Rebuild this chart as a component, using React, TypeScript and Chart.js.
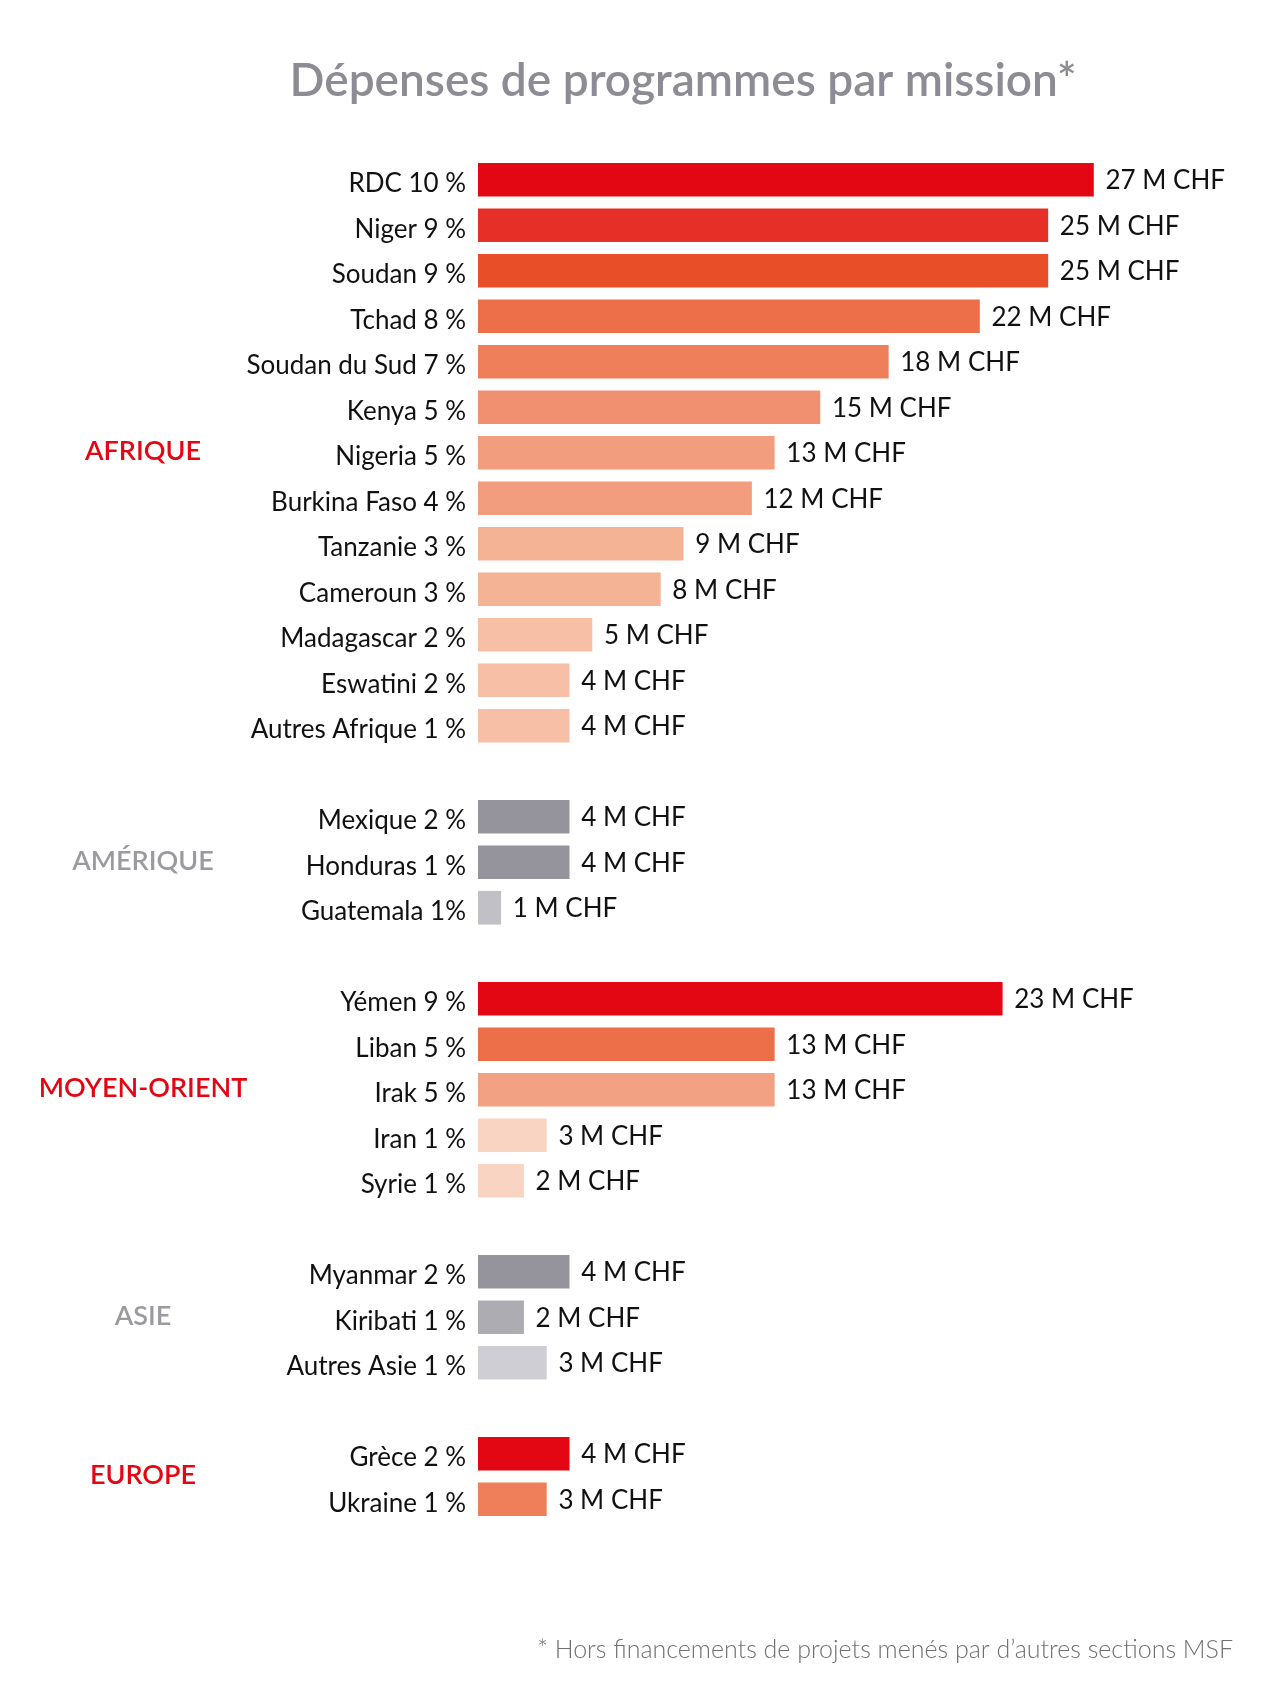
import React, { useEffect, useRef } from "react";
import { Chart, registerables } from "chart.js";

Chart.register(...registerables);

// Programme spending per mission, grouped by region (M CHF and share of total)
const africaMissions = ["RDC", "Niger", "Soudan", "Tchad", "Soudan du Sud", "Kenya", "Nigeria", "Burkina Faso", "Tanzanie", "Cameroun", "Madagascar", "Eswatini", "Autres Afrique"];
const africaShares = ["10\u202f%", "9\u202f%", "9\u202f%", "8\u202f%", "7\u202f%", "5\u202f%", "5\u202f%", "4\u202f%", "3\u202f%", "3\u202f%", "2\u202f%", "2\u202f%", "1\u202f%"];
const africaSpending = [27, 25, 25, 22, 18, 15, 13, 12, 9, 8, 5, 4, 4];

const americaMissions = ["Mexique", "Honduras", "Guatemala"];
const americaShares = ["2\u202f%", "1\u202f%", "1%"];
const americaSpending = [4, 4, 1];

const middleEastMissions = ["Yémen", "Liban", "Irak", "Iran", "Syrie"];
const middleEastShares = ["9\u202f%", "5\u202f%", "5\u202f%", "1\u202f%", "1\u202f%"];
const middleEastSpending = [23, 13, 13, 3, 2];

const asiaMissions = ["Myanmar", "Kiribati", "Autres Asie"];
const asiaShares = ["2\u202f%", "1\u202f%", "1\u202f%"];
const asiaSpending = [4, 2, 3];

const europeMissions = ["Grèce", "Ukraine"];
const europeShares = ["2\u202f%", "1\u202f%"];
const europeSpending = [4, 3];

// Bar palettes per region
const africaColors = ["#e30613", "#e63027", "#e84e27", "#ec6f4a", "#ef7f5a", "#f19070", "#f29e7e", "#f29e7e", "#f5b396", "#f5b396", "#f7bfa6", "#f7bfa6", "#f7bfa6"];
const americaColors = ["#95949d", "#95949d", "#c1c0c7"];
const middleEastColors = ["#e30613", "#ec6f4a", "#f2a182", "#f9d4c3", "#f9d4c3"];
const asiaColors = ["#95949d", "#adacb3", "#cfced4"];
const europeColors = ["#e30613", "#ef7f5a"];

const regions = [
  { name: "AFRIQUE", color: "#e30613", missions: africaMissions, shares: africaShares, spending: africaSpending, colors: africaColors },
  { name: "AMÉRIQUE", color: "#9b9aa1", missions: americaMissions, shares: americaShares, spending: americaSpending, colors: americaColors },
  { name: "MOYEN-ORIENT", color: "#e30613", missions: middleEastMissions, shares: middleEastShares, spending: middleEastSpending, colors: middleEastColors },
  { name: "ASIE", color: "#9b9aa1", missions: asiaMissions, shares: asiaShares, spending: asiaSpending, colors: asiaColors },
  { name: "EUROPE", color: "#e30613", missions: europeMissions, shares: europeShares, spending: europeSpending, colors: europeColors },
];

const TITLE = "Dépenses de programmes par mission*";
const FOOTNOTE = "* Hors financements de projets menés par d\u2019autres sections MSF";
const UNIT = " M CHF";

const FONT = "Lato, 'Noto Sans', sans-serif";

export default function App() {
  const canvasRef = useRef<HTMLCanvasElement | null>(null);

  useEffect(() => {
    const canvas = canvasRef.current;
    if (!canvas) return;

    // One row per mission, with an empty row between regions
    const labels: string[] = [];
    const values: (number | null)[] = [];
    const colors: string[] = [];
    const groupRows: { name: string; color: string; first: number; last: number }[] = [];
    regions.forEach((r, gi) => {
      if (gi > 0) {
        labels.push("");
        values.push(null);
        colors.push("rgba(0,0,0,0)");
      }
      const first = labels.length;
      r.missions.forEach((m, i) => {
        labels.push(`${m} ${r.shares[i]}`);
        values.push(r.spending[i]);
        colors.push(r.colors[i]);
      });
      groupRows.push({ name: r.name, color: r.color, first, last: labels.length - 1 });
    });

    const annotate = {
      id: "annotate",
      afterDraw(chart: any) {
        const ctx = chart.ctx as CanvasRenderingContext2D;
        const y = chart.scales.y;
        ctx.save();

        // title
        ctx.fillStyle = "#8d8c95";
        ctx.font = `600 46px ${FONT}`;
        ctx.textAlign = "center";
        ctx.textBaseline = "alphabetic";
        ctx.fillText(TITLE, 683, 96);

        // value labels at the end of each bar
        ctx.fillStyle = "#111111";
        ctx.font = `400 26px ${FONT}`;
        ctx.textAlign = "left";
        ctx.textBaseline = "middle";
        const meta = chart.getDatasetMeta(0);
        meta.data.forEach((bar: any, i: number) => {
          const v = values[i];
          if (v == null) return;
          ctx.fillText(`${v}${UNIT}`, bar.x + 12, bar.y + 1);
        });

        // region labels
        ctx.font = `600 27px ${FONT}`;
        ctx.textAlign = "center";
        groupRows.forEach((g) => {
          const yy = (y.getPixelForValue(g.first) + y.getPixelForValue(g.last)) / 2;
          ctx.fillStyle = g.color;
          ctx.fillText(g.name, 143, yy - 1);
        });

        // footnote
        ctx.fillStyle = "#707070";
        ctx.font = `300 25px ${FONT}`;
        ctx.textAlign = "right";
        ctx.textBaseline = "alphabetic";
        ctx.fillText(FOOTNOTE, 1233, 1658);

        ctx.restore();
      },
    };

    const chart = new Chart(canvas, {
      type: "bar",
      data: {
        labels,
        datasets: [
          {
            data: values,
            backgroundColor: colors,
            borderWidth: 0,
            barThickness: 33,
          },
        ],
      },
      options: {
        indexAxis: "y",
        animation: false,
        responsive: true,
        maintainAspectRatio: false,
        layout: { padding: { top: 157, bottom: 186, left: 0, right: 27 } },
        plugins: {
          legend: { display: false },
          tooltip: { enabled: false },
          title: { display: false },
        },
        scales: {
          x: {
            display: false,
            min: 0,
            max: 34,
          },
          y: {
            type: "category",
            grid: { display: false },
            border: { display: false },
            afterFit(scale: any) {
              scale.width = 478;
            },
            ticks: {
              color: "#111111",
              padding: 4,
              labelOffset: 4,
              autoSkip: false,
              font: { family: FONT, size: 26 },
            },
          },
        },
      },
      plugins: [annotate],
    });

    return () => chart.destroy();
  }, []);

  return (
    <div style={{ position: "absolute", left: 0, top: 0, width: 1280, height: 1708, background: "#ffffff" }}>
      <canvas ref={canvasRef} />
    </div>
  );
}
